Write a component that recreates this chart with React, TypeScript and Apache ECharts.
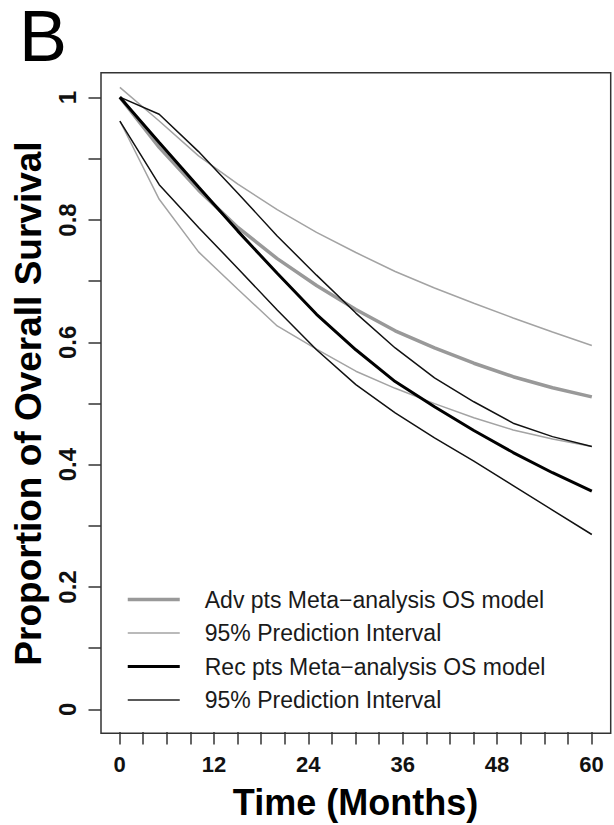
import React, { useEffect, useRef } from 'react';
import * as echarts from 'echarts';

// Months at which the curves are read
const months = [0, 5, 10, 15, 20, 25, 30, 35, 40, 45, 50, 55, 60];

// Advanced patients: meta-analysis OS model and 95% prediction interval
const advMain = [1.0, 0.918, 0.848, 0.787, 0.736, 0.692, 0.653, 0.618, 0.59, 0.565, 0.543, 0.525, 0.51];
const advUpper = [1.016, 0.961, 0.904, 0.858, 0.816, 0.779, 0.746, 0.715, 0.688, 0.663, 0.639, 0.616, 0.594];
const advLower = [0.961, 0.833, 0.747, 0.686, 0.626, 0.588, 0.552, 0.524, 0.499, 0.476, 0.456, 0.441, 0.429];

// Recurrent patients: meta-analysis OS model and 95% prediction interval
const recMain = [1.0, 0.926, 0.853, 0.781, 0.712, 0.645, 0.587, 0.535, 0.494, 0.455, 0.419, 0.386, 0.356];
const recUpper = [1.0, 0.972, 0.911, 0.843, 0.773, 0.709, 0.647, 0.59, 0.541, 0.502, 0.467, 0.445, 0.429];
const recLower = [0.961, 0.857, 0.787, 0.72, 0.652, 0.587, 0.53, 0.484, 0.443, 0.405, 0.365, 0.325, 0.285];

// Tick labels
const xTickLabels = ['0', '12', '24', '36', '48', '60'];
const yTickLabels = ['0', '0.2', '0.4', '0.6', '0.8', '1'];

// Legend texts
const legendLabels: Record<string, string> = {
  advMain: 'Adv pts Meta\u2212analysis OS model',
  advPI: '95% Prediction Interval',
  recMain: 'Rec pts Meta\u2212analysis OS model',
  recPI: '95% Prediction Interval',
};

const FONT = '"Liberation Sans", Arial, Helvetica, sans-serif';
const GRAY = '#999999';
const GRAY_THIN = '#a3a3a3';
const TICK = { show: true, inside: false, length: 12.5, lineStyle: { color: '#333', width: 1.5 } };

export default function App() {
  const ref = useRef<HTMLDivElement>(null);

  useEffect(() => {
    const chart = echarts.init(ref.current!, null, { renderer: 'svg' });
    const pairs = (ys: number[]) => months.map((m, i) => [m, ys[i]]);
    const line = (id: string, name: string, ys: number[], color: string, width: number) => ({
      id,
      name,
      type: 'line',
      xAxisIndex: 0,
      yAxisIndex: 0,
      data: pairs(ys),
      symbol: 'none',
      showSymbol: false,
      smooth: false,
      lineStyle: { color, width },
      itemStyle: { color },
      emphasis: { disabled: true },
    });
    const hiddenItem = { opacity: 0, color: 'rgba(0,0,0,0)', borderWidth: 0 };

    chart.setOption({
      animation: false,
      backgroundColor: '#ffffff',
      textStyle: { fontFamily: FONT },
      grid: [
        // plot box (data region, R-style 4% padding)
        {
          left: 101,
          top: 72.7,
          width: 509.7,
          height: 660.6,
          show: true,
          borderColor: '#333',
          borderWidth: 1.5,
          backgroundColor: 'transparent',
        },
        // x-axis ticks: 0..60 horizontally, box bottom vertically
        { left: 119.5, top: 72.7, width: 472, height: 660.6, show: false },
        // y-axis ticks: 0..1 vertically, box left horizontally
        { left: 101, top: 97.7, width: 509.7, height: 611.6, show: false },
      ],
      xAxis: [
        { gridIndex: 0, type: 'value', min: -2.4, max: 62.4, show: false },
        {
          gridIndex: 1,
          type: 'value',
          min: 0,
          max: 60,
          interval: 3,
          position: 'bottom',
          axisLine: { show: false },
          axisTick: TICK,
          splitLine: { show: false },
          axisLabel: {
            margin: 21,
            fontSize: 22,
            fontWeight: 'bold',
            color: '#111',
            fontFamily: FONT,
            formatter: (v: number) => {
              const k = Math.round(v);
              return k % 12 === 0 ? xTickLabels[k / 12] : '';
            },
          },
          name: 'Time (Months)',
          nameLocation: 'middle',
          nameGap: 52,
          nameTextStyle: { fontSize: 36, fontWeight: 'bold', color: '#000', fontFamily: FONT },
        },
        { gridIndex: 2, type: 'value', min: 0, max: 1, show: false },
      ],
      yAxis: [
        { gridIndex: 0, type: 'value', min: -0.04, max: 1.04, show: false },
        { gridIndex: 1, type: 'value', min: 0, max: 1, show: false },
        {
          gridIndex: 2,
          type: 'value',
          min: 0,
          max: 1,
          interval: 0.1,
          position: 'left',
          axisLine: { show: false },
          axisTick: TICK,
          splitLine: { show: false },
          axisLabel: {
            rotate: 90,
            margin: 22,
            fontSize: 24,
            fontWeight: 'bold',
            color: '#111',
            fontFamily: FONT,
            formatter: (v: number) => {
              const k = Math.round(v * 10);
              return k % 2 === 0 ? yTickLabels[k / 2] : '';
            },
          },
          name: 'Proportion of Overall Survival',
          nameLocation: 'middle',
          nameGap: 52,
          nameTextStyle: { fontSize: 37, fontWeight: 'bold', color: '#000', fontFamily: FONT },
        },
      ],
      legend: {
        orient: 'vertical',
        left: 126,
        top: 588,
        padding: 0,
        itemWidth: 52,
        itemHeight: 14,
        itemGap: 10.5,
        selectedMode: false,
        formatter: (name: string) => legendLabels[name] || name,
        textStyle: { fontSize: 23, color: '#1a1a1a', fontFamily: FONT, padding: [0, 0, 0, 20] },
        data: [
          { name: 'advMain', itemStyle: hiddenItem, lineStyle: { width: 3.5, color: GRAY } },
          { name: 'advPI', itemStyle: hiddenItem, lineStyle: { width: 1.5, color: GRAY_THIN } },
          { name: 'recMain', itemStyle: hiddenItem, lineStyle: { width: 3, color: '#000' } },
          { name: 'recPI', itemStyle: hiddenItem, lineStyle: { width: 1.5, color: '#222' } },
        ],
      },
      graphic: [
        {
          type: 'text',
          left: 19,
          top: 0,
          style: { text: 'B', font: `72px ${FONT}`, lineHeight: 56, fill: '#000' },
        },
      ],
      series: [
        line('advUpper', 'advPI', advUpper, GRAY_THIN, 1.5),
        line('advLower', 'advPI', advLower, GRAY_THIN, 1.5),
        line('advMain', 'advMain', advMain, GRAY, 3.5),
        line('recUpper', 'recPI', recUpper, '#111', 1.5),
        line('recLower', 'recPI', recLower, '#111', 1.5),
        line('recMain', 'recMain', recMain, '#000', 3),
      ],
    });

    return () => chart.dispose();
  }, []);

  return <div ref={ref} style={{ position: 'absolute', left: 0, top: 0, width: 614, height: 825 }} />;
}
